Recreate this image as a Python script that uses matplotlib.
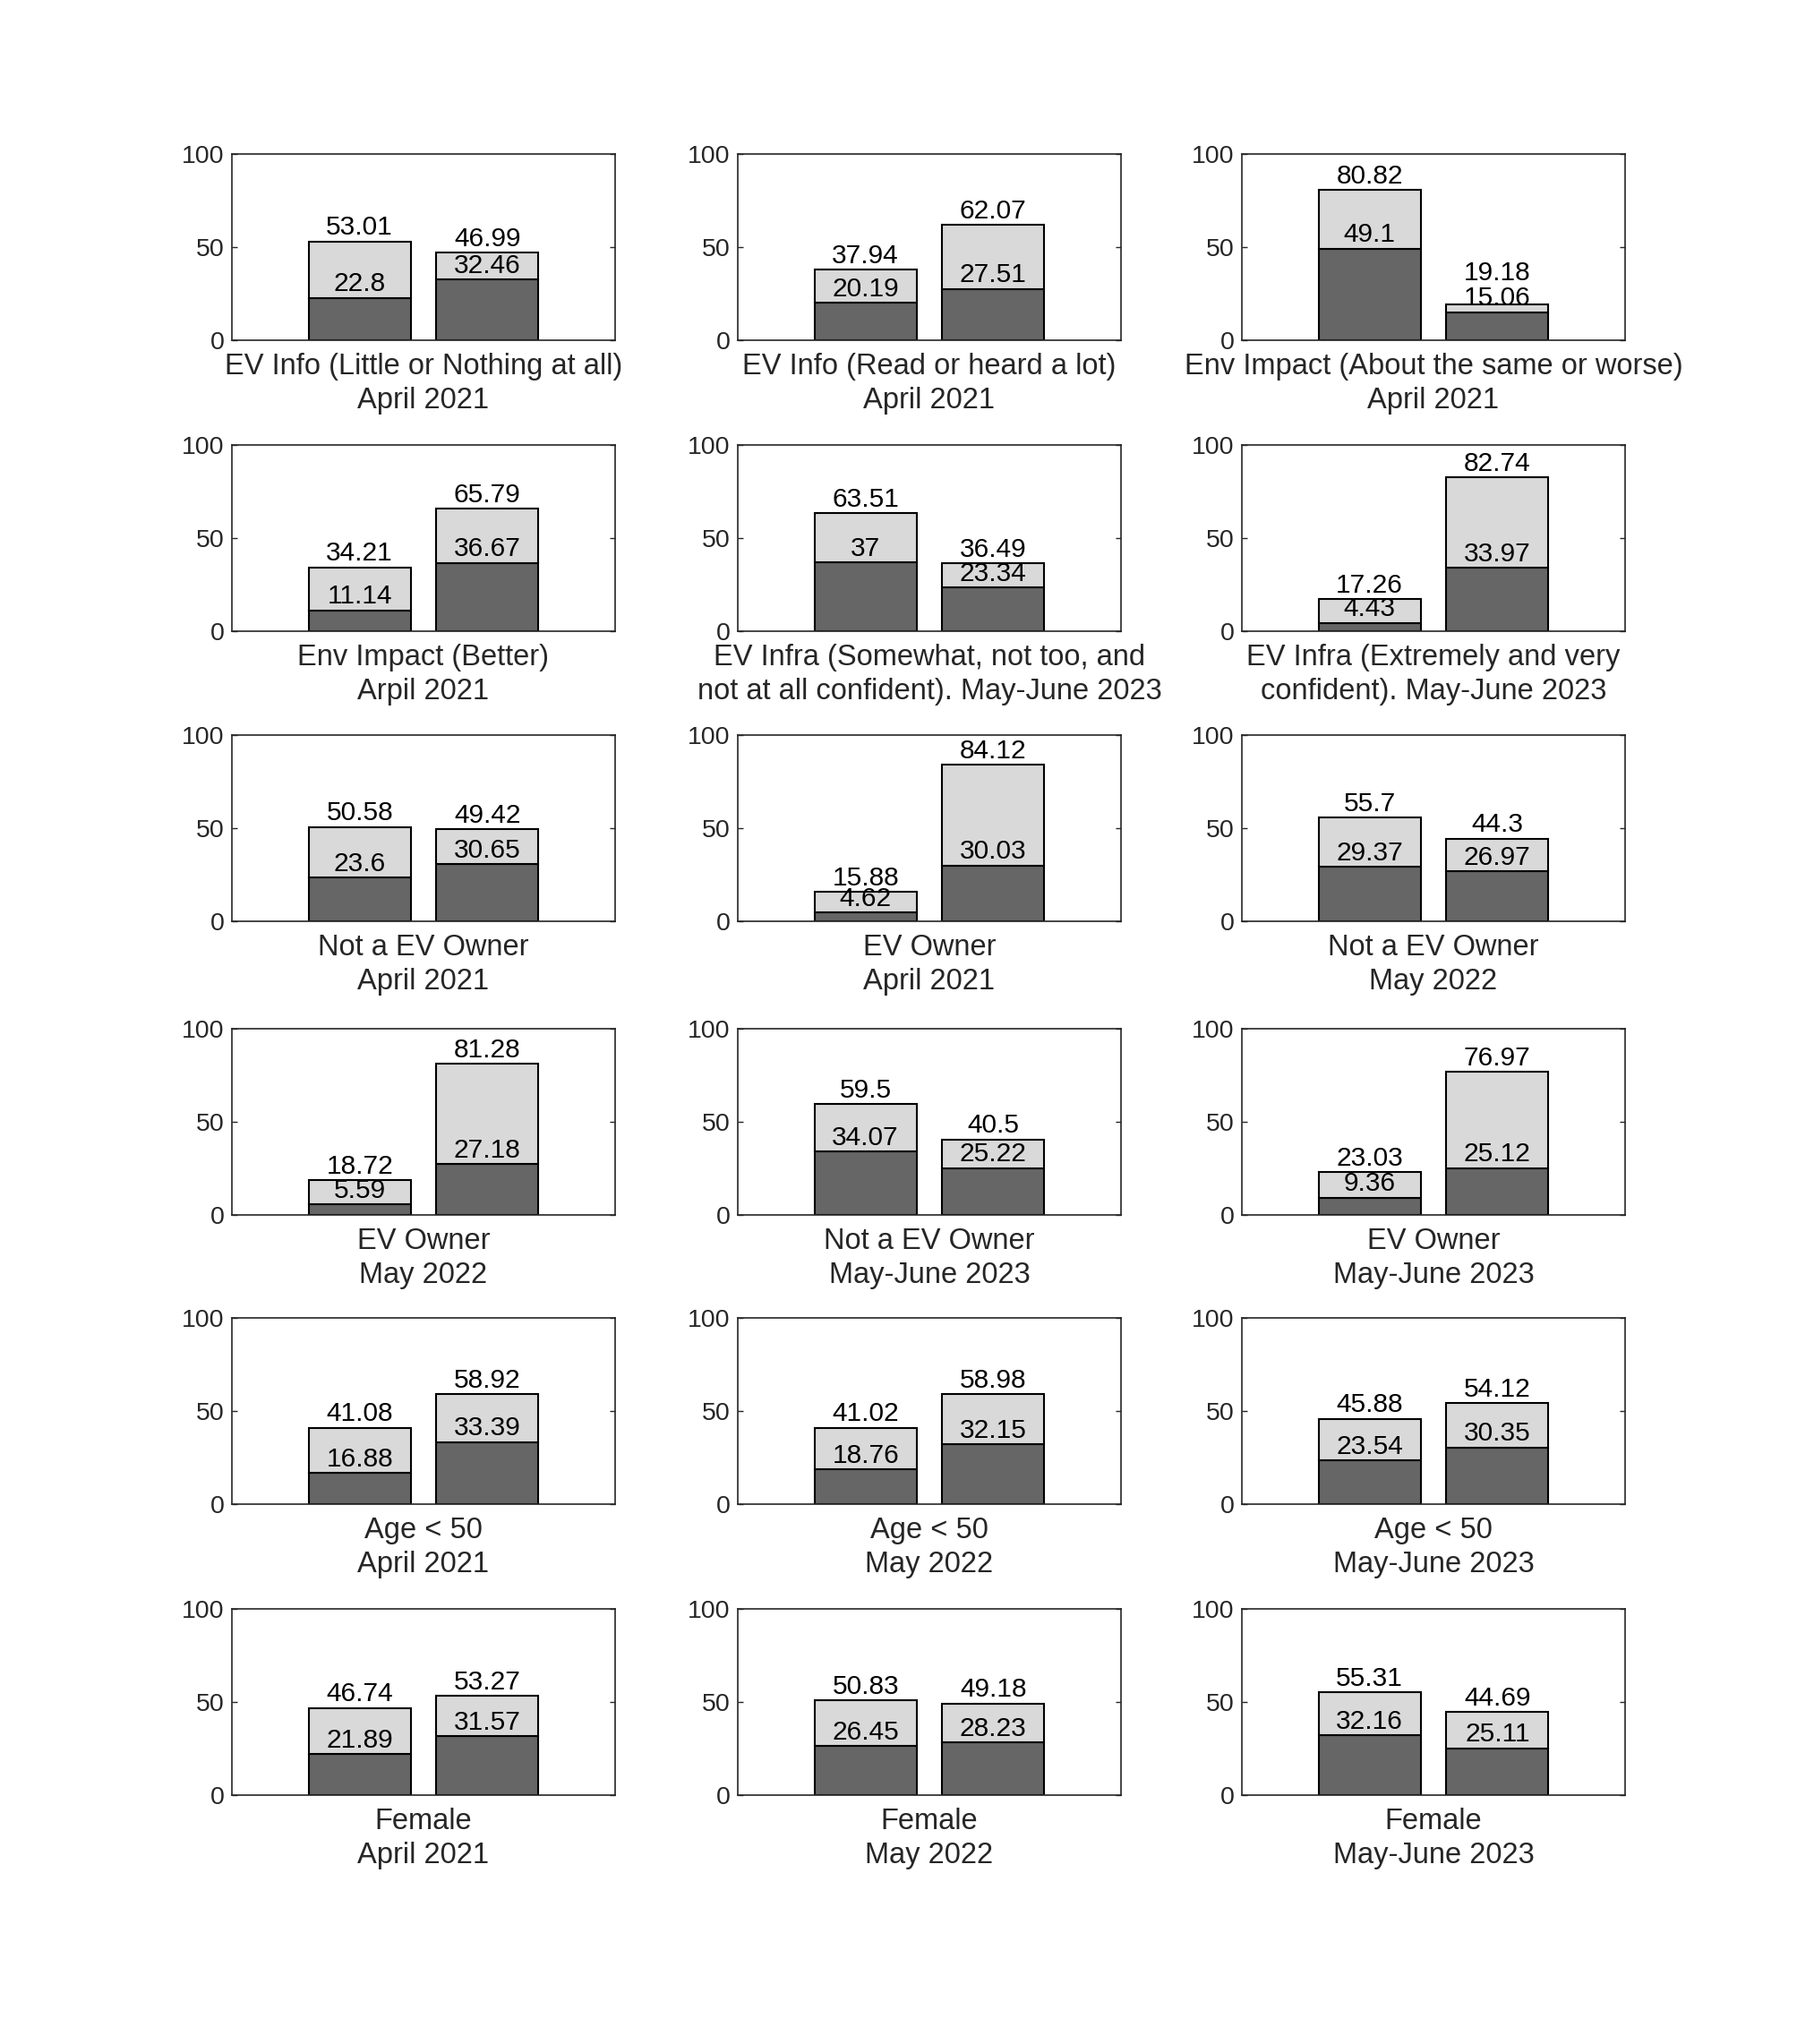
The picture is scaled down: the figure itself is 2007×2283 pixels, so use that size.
import matplotlib
matplotlib.use("Agg")
import matplotlib.pyplot as plt

plt.rcParams['font.family'] = ['Liberation Sans', 'DejaVu Sans']

titles = [
    "EV Info (Little or Nothing at all)\nApril 2021",
    "EV Info (Read or heard a lot)\nApril 2021",
    "Env Impact (About the same or worse)\nApril 2021",
    "Env Impact (Better)\nArpil 2021",
    "EV Infra (Somewhat, not too, and\nnot at all confident). May-June 2023",
    "EV Infra (Extremely and very\nconfident). May-June 2023",
    "Not a EV Owner\nApril 2021",
    "EV Owner\nApril 2021",
    "Not a EV Owner\nMay 2022",
    "EV Owner\nMay 2022",
    "Not a EV Owner\nMay-June 2023",
    "EV Owner\nMay-June 2023",
    "Age < 50\nApril 2021",
    "Age < 50\nMay 2022",
    "Age < 50\nMay-June 2023",
    "Female\nApril 2021",
    "Female\nMay 2022",
    "Female\nMay-June 2023",
]

# lower (dark) segment values
inner = [
    [22.8, 32.46], [20.19, 27.51], [49.1, 15.06],
    [11.14, 36.67], [37, 23.34], [4.43, 33.97],
    [23.6, 30.65], [4.62, 30.03], [29.37, 26.97],
    [5.59, 27.18], [34.07, 25.22], [9.36, 25.12],
    [16.88, 33.39], [18.76, 32.15], [23.54, 30.35],
    [21.89, 31.57], [26.45, 28.23], [32.16, 25.11],
]

# bar totals
totals = [
    [53.01, 46.99], [37.94, 62.07], [80.82, 19.18],
    [34.21, 65.79], [63.51, 36.49], [17.26, 82.74],
    [50.58, 49.42], [15.88, 84.12], [55.7, 44.3],
    [18.72, 81.28], [59.5, 40.5], [23.03, 76.97],
    [41.08, 58.92], [41.02, 58.98], [45.88, 54.12],
    [46.74, 53.27], [50.83, 49.18], [55.31, 44.69],
]

W, H = 2007, 2283
fig = plt.figure(figsize=(W / 100, H / 100), dpi=100)

col_x = [259, 824, 1387]
ax_w = 428
row_top = [172, 497, 821, 1149, 1472, 1797]
ax_h = 208

dark = '#666666'
light = '#d9d9d9'
axcol = '#262626'

# the author lifted one crowded total label a bit higher
lift = {(2, 1): 14}

for i in range(18):
    r, c = divmod(i, 3)
    ax = fig.add_axes([col_x[c] / W, 1 - (row_top[r] + ax_h) / H, ax_w / W, ax_h / H])
    xs = [1, 2]
    low = inner[i]
    up = [t - l for t, l in zip(totals[i], low)]
    ax.bar(xs, low, width=0.8, color=dark, edgecolor='black', linewidth=1.5)
    ax.bar(xs, up, bottom=low, width=0.8, color=light, edgecolor='black', linewidth=1.5)
    for j, (x, l, t) in enumerate(zip(xs, low, totals[i])):
        ax.annotate(f"{t:g}", (x, t), xytext=(0, 1 + lift.get((i, j), 0)),
                    textcoords='offset points', ha='center', va='bottom',
                    fontsize=21.5, color='black')
        ax.annotate(f"{l:g}", (x, l), xytext=(0, 1), textcoords='offset points',
                    ha='center', va='bottom', fontsize=21.5, color='black')
    ax.set_xlim(0, 3)
    ax.set_ylim(0, 100)
    ax.set_yticks([0, 50, 100])
    ax.set_xticks([])
    ax.tick_params(axis='y', direction='in', length=4, width=1, colors=axcol,
                   labelsize=20.5, pad=6, right=True)
    for s in ax.spines.values():
        s.set_color(axcol)
        s.set_linewidth(1.2)
    ax.set_xlabel(titles[i], fontsize=23.5, color=axcol, labelpad=10, linespacing=1.3)

fig.savefig('out.png', dpi=100, facecolor='white')
